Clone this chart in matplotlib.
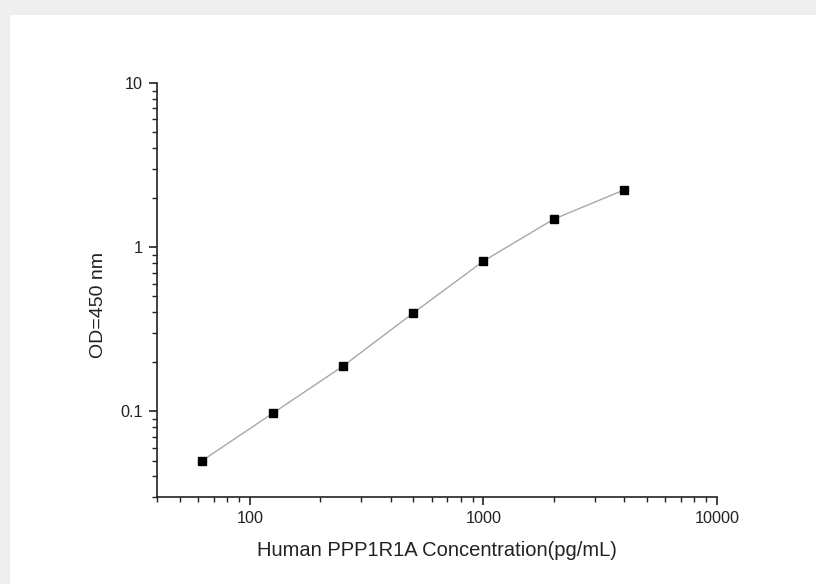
import matplotlib
matplotlib.use("Agg")
import matplotlib.pyplot as plt
from matplotlib.patches import Rectangle
from matplotlib.ticker import LogLocator, FixedLocator, NullFormatter

plt.rcParams['font.family'] = ['Liberation Sans', 'DejaVu Sans']

concentration = [62.5, 125, 250, 500, 1000, 2000, 4000]
od450 = [0.050, 0.097, 0.188, 0.396, 0.822, 1.48, 2.23]
x_ticks = [100, 1000, 10000]
x_tick_labels = ["100", "1000", "10000"]
y_ticks = [0.1, 1, 10]
y_tick_labels = ["0.1", "1", "10"]

W, H = 816, 584
fig = plt.figure(figsize=(W / 100, H / 100), dpi=100, facecolor="#eeeeee")
fig.patches.append(Rectangle((10 / W, 0), 1 - 10 / W, (H - 15) / H,
                             transform=fig.transFigure, facecolor="white",
                             edgecolor="none", zorder=-10))

left, right, top, bottom = 157, 717, 83, 497
ax = fig.add_axes([left / W, 1 - bottom / H, (right - left) / W, (bottom - top) / H])
ax.set_facecolor("none")

ax.plot(concentration, od450, color="#a8a8a8", lw=1.0, zorder=2)
ax.plot(concentration, od450, ls="none", marker="s", ms=6, color="black", zorder=3)

ax.set_xscale("log")
ax.set_yscale("log")
ax.set_xlim(40, 10000)
ax.set_ylim(0.03, 10)

ax.xaxis.set_major_locator(FixedLocator(x_ticks))
ax.set_xticklabels(x_tick_labels)
ax.yaxis.set_major_locator(FixedLocator(y_ticks))
ax.set_yticklabels(y_tick_labels)
ax.xaxis.set_minor_locator(LogLocator(base=10, subs=range(2, 10)))
ax.yaxis.set_minor_locator(LogLocator(base=10, subs=range(2, 10)))
ax.xaxis.set_minor_formatter(NullFormatter())
ax.yaxis.set_minor_formatter(NullFormatter())

for s in ["top", "right"]:
    ax.spines[s].set_visible(False)
for s in ["left", "bottom"]:
    ax.spines[s].set_linewidth(1.2)
    ax.spines[s].set_color("#222222")

ax.tick_params(which="major", direction="out", length=6, width=1.2, color="#222222",
               labelsize=11.7, labelcolor="#222222", pad=4)
ax.tick_params(which="minor", direction="out", length=3.5, width=1.0, color="#222222")

ax.set_xlabel("Human PPP1R1A Concentration(pg/mL)", fontsize=14.5, color="#222222", labelpad=11)
ax.set_ylabel("OD=450 nm", fontsize=14, color="#222222")
ax.yaxis.set_label_coords(-(157 - 107) / (717 - 157), 0.464)

fig.savefig("out.png", dpi=100, facecolor=fig.get_facecolor())
